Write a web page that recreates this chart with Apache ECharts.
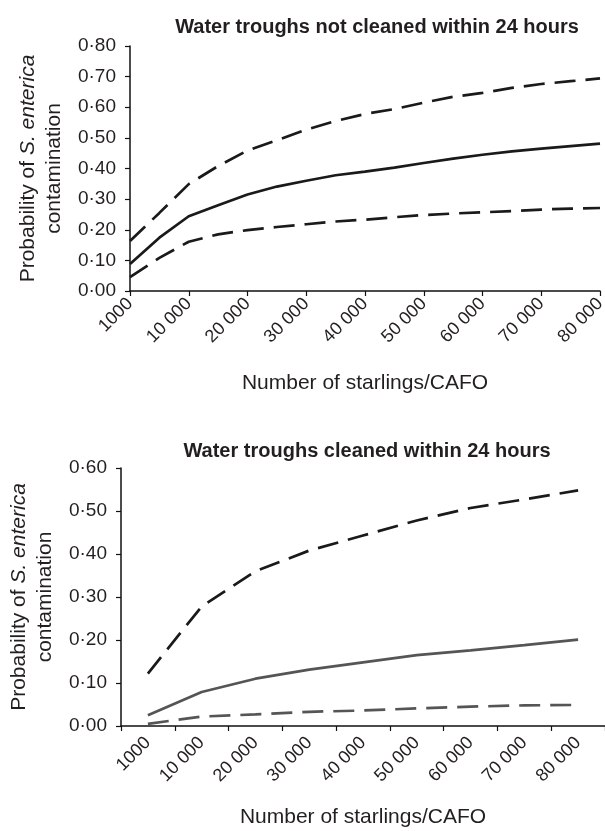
<!DOCTYPE html>
<html>
<head>
<meta charset="utf-8">
<script src="https://cdn.jsdelivr.net/npm/echarts@6/dist/echarts.min.js"></script>
<style>
html,body{margin:0;padding:0;background:#fff;}
#chart{width:605px;height:831px;}
</style>
</head>
<body>
<div id="chart"></div>
<script>
// ---- data ----
var topTitle = 'Water troughs not cleaned within 24 hours';
var bottomTitle = 'Water troughs cleaned within 24 hours';
var xName = 'Number of starlings/CAFO';

var topCategories = ['1000','5000','10 000','15 000','20 000','25 000','30 000','35 000','40 000','45 000','50 000','55 000','60 000','65 000','70 000','75 000','80 000'];
var topMean  = [0.088,0.174,0.244,0.280,0.315,0.341,0.360,0.378,0.390,0.403,0.418,0.432,0.445,0.456,0.465,0.473,0.481];
var topUpper = [0.163,0.255,0.349,0.408,0.459,0.492,0.527,0.555,0.578,0.594,0.615,0.634,0.647,0.663,0.676,0.685,0.694];
var topLower = [0.045,0.108,0.161,0.185,0.199,0.209,0.218,0.227,0.233,0.241,0.248,0.253,0.257,0.261,0.266,0.269,0.271];

var bottomCategories = ['1000','10 000','20 000','30 000','40 000','50 000','60 000','70 000','80 000'];
var bottomUpper = [0.122,0.278,0.360,0.408,0.443,0.478,0.507,0.527,0.548];
var bottomMean  = [0.025,0.079,0.110,0.131,0.148,0.165,0.176,0.188,0.201];
var bottomLower = [0.005,0.022,0.027,0.033,0.036,0.041,0.045,0.048,0.049];

// ---- chart ----
var FONT = "'Liberation Sans', Arial, sans-serif";
var TXT = '#231f20';
var chart = echarts.init(document.getElementById('chart'), null, {renderer:'canvas'});

function yAxisCfg(gridIndex, max, gap) {
  return {
    type: 'value', gridIndex: gridIndex, min: 0, max: max, interval: 0.1,
    splitLine: {show:false},
    axisLine: {show:true, lineStyle:{color:'#111', width:1.5}},
    axisTick: {show:true, length:5, lineStyle:{color:'#111', width:1.2}},
    axisLabel: {color:TXT, fontSize:19, fontFamily:FONT, margin:14,
      formatter: function(v){ return v.toFixed(2).replace('.', '\u00b7'); }},
    name: '{a|Probability of }{i|S. enterica}\n{a|contamination}',
    nameLocation: 'middle', nameRotate: 90, nameGap: gap,
    nameTextStyle: {
      color: TXT, fontFamily: FONT, fontSize: 21, lineHeight: 26,
      rich: {
        a: {color:TXT, fontFamily:FONT, fontSize:21, lineHeight:26},
        i: {color:TXT, fontFamily:FONT, fontSize:21, fontStyle:'italic', lineHeight:26}
      }
    }
  };
}

function xAxisCfg(gridIndex, cats, boundaryGap, interval, margin, gap) {
  return {
    type: 'category', gridIndex: gridIndex, data: cats, boundaryGap: boundaryGap,
    axisLine: {show:true, lineStyle:{color:'#111', width:1.5}},
    axisTick: {show:true, length:5, interval: interval, alignWithLabel: false, lineStyle:{color:'#111', width:1.2}},
    axisLabel: {color:TXT, fontSize:18, fontFamily:FONT, rotate:45, interval: interval, margin: margin},
    splitLine: {show:false},
    name: xName, nameLocation: 'middle', nameGap: gap,
    nameTextStyle: {color:TXT, fontSize:21, fontFamily:FONT}
  };
}

function lineSeries(x, y, data, color, dashed) {
  return {
    type: 'line', xAxisIndex: x, yAxisIndex: y, data: data,
    symbol: 'none', smooth: false, silent: true,
    lineStyle: {color: color, width: 2.7, type: dashed ? [21, 10] : 'solid'}
  };
}

chart.setOption({
  animation: false,
  backgroundColor: '#fff',
  title: [
    {text: topTitle, left: 372, top: 12, textAlign: 'center',
     textStyle: {color:TXT, fontSize:20, fontWeight:'bold', fontFamily:FONT}},
    {text: bottomTitle, left: 362, top: 436, textAlign: 'center',
     textStyle: {color:TXT, fontSize:20, fontWeight:'bold', fontFamily:FONT}}
  ],
  grid: [
    {left: 130, right: 5, top: 46, height: 245, containLabel: false, outerBoundsMode: 'none'},
    {left: 121, right: 0, top: 468, height: 258, containLabel: false, outerBoundsMode: 'none'}
  ],
  xAxis: [
    xAxisCfg(0, topCategories, false, 1, 10, 82),
    xAxisCfg(1, bottomCategories, true, 0, 14, 81)
  ],
  yAxis: [
    yAxisCfg(0, 0.8, 63),
    yAxisCfg(1, 0.6, 63)
  ],
  series: [
    lineSeries(0, 0, topUpper, '#1a1a1a', true),
    lineSeries(0, 0, topMean, '#1a1a1a', false),
    lineSeries(0, 0, topLower, '#1a1a1a', true),
    lineSeries(1, 1, bottomUpper, '#1a1a1a', true),
    lineSeries(1, 1, bottomMean, '#555555', false),
    lineSeries(1, 1, bottomLower, '#555555', true)
  ]
});
</script>
</body>
</html>
